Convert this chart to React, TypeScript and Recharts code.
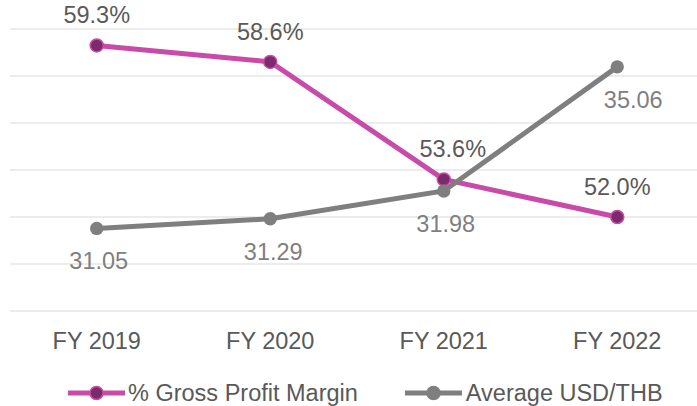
import { LineChart, Line, XAxis, YAxis, CartesianGrid, Legend, LabelList } from 'recharts'

// chart data
const categories = ['FY 2019', 'FY 2020', 'FY 2021', 'FY 2022']
const grossMargin = [59.3, 58.6, 53.6, 52.0]
const usdThb = [31.05, 31.29, 31.98, 35.06]
const marginTicks = [48, 50, 52, 54, 56, 58, 60]
const fxTicks = [29, 36]

const FONT = '"Liberation Sans", Arial, sans-serif'
const FONT_SIZE = 23.5
const PINK = '#C94BA9'
const PINK_DOT = '#7B2A6B'
const GREY = '#7F7F7F'
const TEXT = '#595959'

// small nudges so labels sit where the original puts them
const marginLabelDx = [0, 0, 9, 0]
const fxLabelDx = [2, 3, 2, 16]

const data = categories.map((name, i) => ({
  name,
  margin: grossMargin[i],
  fx: usdThb[i],
}))

const MarginLabel = (props: any) => {
  const { x, y, value, index } = props
  return (
    <text
      x={x + marginLabelDx[index]}
      y={y - 22}
      textAnchor="middle"
      fill={TEXT}
      fontSize={FONT_SIZE}
      fontFamily={FONT}
    >
      {`${Number(value).toFixed(1)}%`}
    </text>
  )
}

const FxLabel = (props: any) => {
  const { x, y, value, index } = props
  return (
    <text
      x={x + fxLabelDx[index]}
      y={y + 41}
      textAnchor="middle"
      fill={GREY}
      fontSize={FONT_SIZE}
      fontFamily={FONT}
    >
      {Number(value).toFixed(2)}
    </text>
  )
}

const LegendIcon = ({ color, dot }: { color: string; dot: string }) => (
  <svg width={57} height={24} style={{ display: 'block' }}>
    <line x1={0} y1={12} x2={57} y2={12} stroke={color} strokeWidth={5} />
    <circle cx={28.5} cy={12} r={6.5} fill={dot} stroke={color} strokeWidth={1.5} />
  </svg>
)

const CustomLegend = () => (
  <div
    style={{
      height: 40,
      boxSizing: 'border-box',
      paddingTop: 14,
      paddingLeft: 68,
      display: 'flex',
      alignItems: 'center',
      fontFamily: FONT,
      fontSize: FONT_SIZE,
      color: TEXT,
      lineHeight: '24px',
      whiteSpace: 'nowrap',
    }}
  >
    <LegendIcon color={PINK} dot={PINK_DOT} />
    <span style={{ marginLeft: 3 }}>% Gross Profit Margin</span>
    <span style={{ width: 47, display: 'inline-block' }} />
    <LegendIcon color={GREY} dot={GREY} />
    <span style={{ marginLeft: 4 }}>Average USD/THB</span>
  </div>
)

export default function App() {
  return (
    <div style={{ position: 'absolute', left: 0, top: 0, background: '#fff' }}>
      <LineChart
        width={697}
        height={406}
        data={data}
        margin={{ top: 29, right: -7, left: 10, bottom: 0 }}
      >
        <CartesianGrid vertical={false} yAxisId="left" stroke="#D9D9D9" strokeWidth={1.2} />
        <XAxis
          dataKey="name"
          scale="band"
          axisLine={false}
          tickLine={false}
          tickMargin={15}
          height={55}
          tick={{ fill: TEXT, fontSize: FONT_SIZE, fontFamily: FONT }}
        />
        <YAxis yAxisId="left" hide domain={[48, 60]} ticks={marginTicks} />
        <YAxis yAxisId="right" hide orientation="right" domain={[29, 36]} ticks={fxTicks} />
        <Legend verticalAlign="bottom" height={40} content={<CustomLegend />} wrapperStyle={{ left: 0, width: 697 }} />
        <Line
          yAxisId="left"
          dataKey="margin"
          stroke={PINK}
          strokeWidth={5}
          dot={{ r: 6.5, fill: PINK_DOT, stroke: PINK, strokeWidth: 1.5 }}
          activeDot={false}
          isAnimationActive={false}
        >
          <LabelList dataKey="margin" content={<MarginLabel />} />
        </Line>
        <Line
          yAxisId="right"
          dataKey="fx"
          stroke={GREY}
          strokeWidth={5}
          dot={{ r: 6.7, fill: GREY, stroke: GREY, strokeWidth: 0 }}
          activeDot={false}
          isAnimationActive={false}
        >
          <LabelList dataKey="fx" content={<FxLabel />} />
        </Line>
      </LineChart>
    </div>
  )
}
